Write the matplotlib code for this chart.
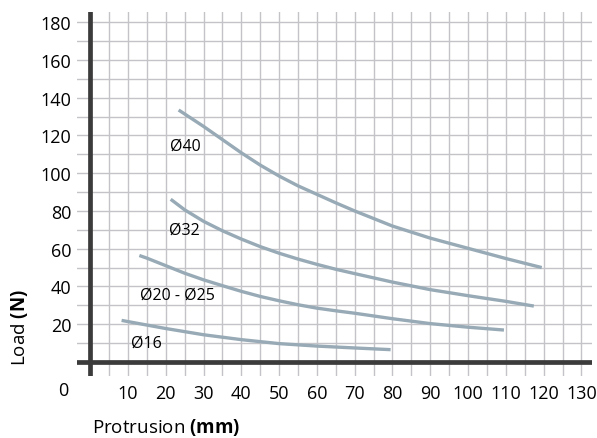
import numpy as np
import matplotlib
matplotlib.use("Agg")
import matplotlib.pyplot as plt

plt.rcParams['font.family'] = ['Open Sans', 'DejaVu Sans']
plt.rcParams['mathtext.fontset'] = 'custom'
plt.rcParams['mathtext.rm'] = 'Open Sans'
plt.rcParams['mathtext.bf'] = 'Open Sans:bold'

# curves (protrusion mm, load N)
x40 = [23.4, 30, 35, 40, 45, 50, 55, 60, 65, 70, 80, 90, 100, 110, 119.5]
y40 = [133.5, 124.8, 117.8, 110.8, 104.3, 98.5, 93.3, 88.8, 84.3, 80, 72, 65.6, 60.2, 54.8, 50]

x32 = [21.3, 25, 30, 35, 40, 45, 50, 55, 60, 65, 70, 80, 90, 100, 110, 117.4]
y32 = [86.2, 80.6, 74.5, 69.5, 65.1, 61.1, 57.6, 54.5, 51.7, 49.1, 46.8, 42.3, 38.3, 35.1, 32.1, 29.6]

x20 = [13, 15, 20, 25, 30, 35, 40, 45, 50, 55, 60, 65, 70, 80, 90, 100, 109.5]
y20 = [56.4, 55, 51, 47, 43.5, 40.4, 37.4, 34.7, 32.4, 30.3, 28.5, 27.1, 25.8, 22.9, 20.3, 18.4, 16.9]

x16 = [8.3, 20, 30, 40, 50, 60, 70, 79.5]
y16 = [22, 17.7, 14.4, 11.8, 9.7, 8.4, 7.4, 6.5]

curves = [(x40, y40), (x32, y32), (x20, y20), (x16, y16)]
names = ["Ø40", "Ø32", "Ø20 - Ø25", "Ø16"]
name_pos = [(21, 114.5), (20.8, 70), (13.3, 35.5), (10.7, 10)]

xlabels = list(range(10, 140, 10))
ylabels = list(range(20, 200, 20))

fig = plt.figure(figsize=(5.97, 4.39), dpi=100)
ax = fig.add_axes([77/597, 1 - 376.7/439, 515/597, 364/439])

ax.set_xlim(-3.5, 132.8)
ax.set_ylim(-7.3, 185.6)

ax.set_xticks(xlabels)
ax.set_xticks(np.arange(5, 135, 10), minor=True)
ax.set_yticks(ylabels)
ax.set_yticks(np.arange(10, 190, 20), minor=True)
ax.tick_params(which='both', length=0)
ax.tick_params(axis='x', pad=6, labelsize=13, colors='black')
ax.tick_params(axis='y', pad=4, labelsize=13, colors='black')
ax.grid(which='both', color='#c4c4c8', linewidth=1.0, zorder=0)
ax.set_axisbelow(True)
for s in ax.spines.values():
    s.set_visible(False)

ax.axhline(0, color='#3b3b3b', linewidth=3.4, zorder=3)
ax.axvline(0, color='#3b3b3b', linewidth=3.4, zorder=3)

for (xs, ys), name, (tx, ty) in zip(curves, names, name_pos):
    ax.plot(xs, ys, color='#97aab5', linewidth=2.4, solid_capstyle='butt',
            solid_joinstyle='round', zorder=4)
    ax.text(tx, ty, name, fontsize=11.5, ha='left', va='center', zorder=5)

fig.text(68/597, 1 - 391/439, "0", fontsize=13, ha='right', va='center')
fig.text(20/597, 1 - 328/439, "Load $\\mathbf{(N)}$", fontsize=13.5, rotation=90,
         ha='center', va='center')
fig.text(91.7/597, 1 - 428/439, "Protrusion $\\mathbf{(mm)}$", fontsize=13.5,
         ha='left', va='center')

fig.savefig("out.png", dpi=100)
